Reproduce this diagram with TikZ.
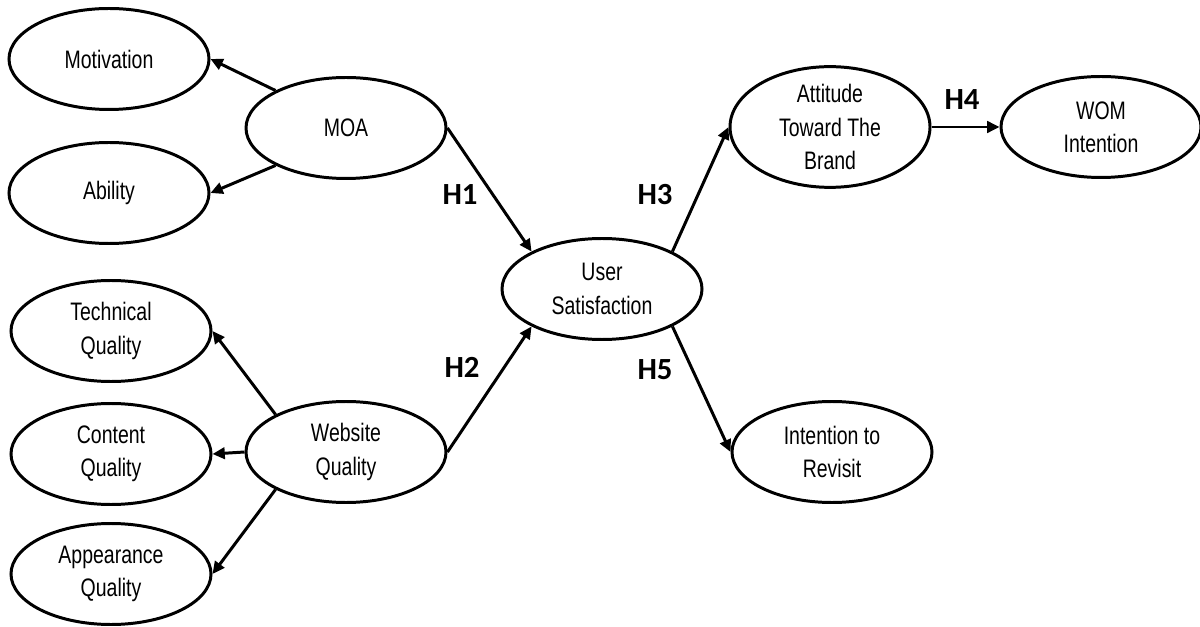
\documentclass[tikz,border=0pt]{standalone}
\usepackage{fontspec}
\setmainfont[FakeStretch=0.77]{Liberation Sans}
\newfontfamily\hypfont{Carlito}
\usetikzlibrary{arrows.meta,shapes.geometric}

\tikzset{
	construct/.style={ellipse, draw, line width=1.7pt, minimum width=4cm, minimum height=2.02cm, inner sep=0pt, align=center, font=\fontsize{14.4}{19}\selectfont},
	link/.style={-{Triangle[length=7pt,width=6.5pt]}, line width=1.7pt},
	hyp/.style={font=\hypfont\bfseries\fontsize{17.5}{20}\selectfont}
}

\begin{document}
\begin{tikzpicture}
			\useasboundingbox (0, 0) rectangle (24, -12.54);

			\node (mot) at (2.18, -1.18) [construct] {Motivation};
			\node (abl) at (2.18, -3.86) [construct] {Ability};
			\node (moa) at (6.92, -2.56) [construct] {MOA};

			\node (tech) at (2.22, -6.62) [construct] {Technical\\Quality};
			\node (cont) at (2.22, -9.08) [construct] {Content\\Quality};
			\node (appr) at (2.22, -11.48) [construct] {Appearance\\Quality};
			\node (wq) at (6.92, -9.04) [construct] {Website\\Quality};

			\node (us) at (12.04, -5.78) [construct] {User\\Satisfaction};
			\node (att) at (16.6, -2.54) [construct] {Attitude\\Toward The\\Brand};
			\node (wom) at (22.02, -2.54) [construct] {WOM\\Intention};
			\node (rev) at (16.64, -9.04) [construct] {Intention to\\Revisit};

			\draw [link] (moa.152) -- (mot.east);
			\draw [link] (moa.208) -- (abl.east);
			\draw [link] (wq.152) -- (tech.east);
			\draw [link] (wq.west) -- (cont.east);
			\draw [link] (wq.208) -- (appr.east);

			\draw [link] (moa.east) -- (us.152);
			\draw [link] (wq.east) -- (us.208);
			\draw [link] (us.28) -- (att.west);
			\draw [link] (us.-28) -- (rev.west);
			\draw [link] (att.east) -- (wom.west);

			\node (h1) at (9.2, -3.9) [hyp] {H1};
			\node (h2) at (9.24, -7.34) [hyp] {H2};
			\node (h3) at (13.1, -3.9) [hyp] {H3};
			\node (h4) at (19.24, -2.0) [hyp] {H4};
			\node (h5) at (13.1, -7.4) [hyp] {H5};
		\end{tikzpicture}
\end{document}
